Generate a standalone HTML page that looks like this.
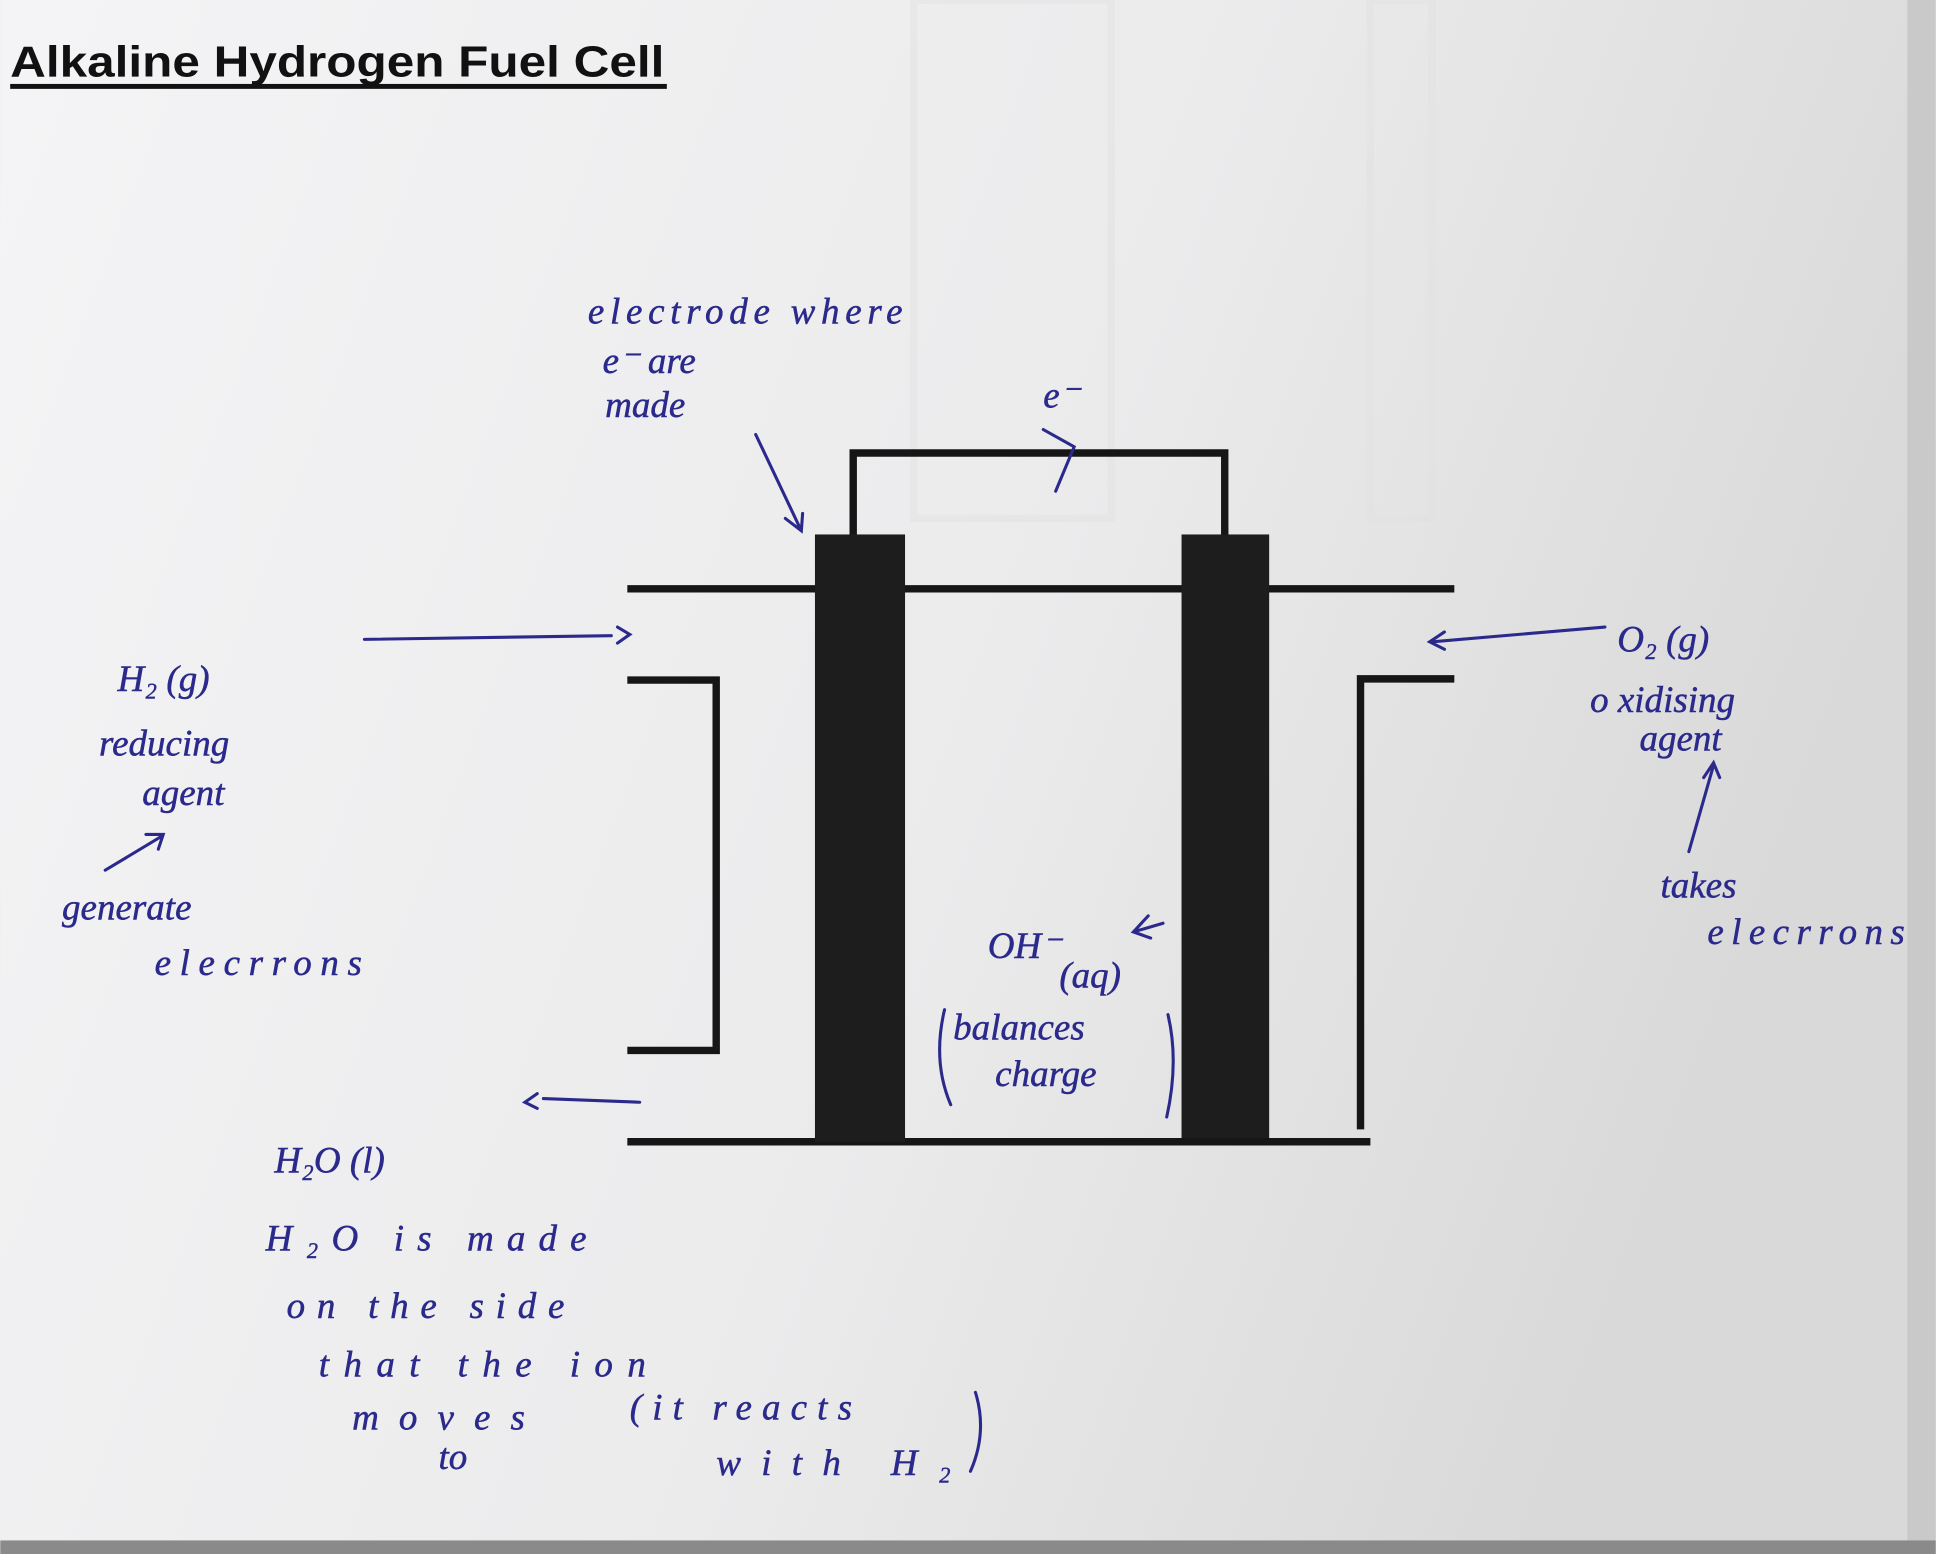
<!DOCTYPE html>
<html><head><meta charset="utf-8"><style>
html,body{margin:0;padding:0;width:1936px;height:1554px;overflow:hidden;background:#eeeef0}
svg{display:block}
.h{font-family:"Liberation Serif",serif;font-style:italic;fill:#2b2a8c;font-size:30px}
</style></head><body>
<svg width="1936" height="1554" viewBox="0 0 1568 1259" xmlns="http://www.w3.org/2000/svg">
<defs>
<linearGradient id="bg" x1="0" y1="0" x2="1" y2="0.3">
<stop offset="0" stop-color="#f4f4f6"/><stop offset="0.6" stop-color="#ebebec"/><stop offset="1" stop-color="#d9d9d9"/>
</linearGradient>
</defs>
<rect width="1568" height="1259" fill="url(#bg)"/>
<rect x="1545" y="0" width="23" height="1259" fill="#c9c9c9"/>
<rect x="0" y="1248" width="1568" height="11" fill="#8a8a8a"/>
<g fill="none" stroke="#e2e2e2" stroke-width="6" opacity="0.5">
<rect x="740" y="0" width="160" height="420"/><rect x="1110" y="0" width="50" height="420"/>
</g>
<text x="8" y="62" font-family="Liberation Sans,sans-serif" font-weight="bold" font-size="35" fill="#111" textLength="530" lengthAdjust="spacingAndGlyphs">Alkaline Hydrogen Fuel Cell</text>
<rect x="8" y="68" width="532" height="4" fill="#111"/>
<g stroke="#161616" stroke-width="6" fill="none">
<path d="M508 477H1178"/>
<path d="M691 433V367H992V433"/>
<path d="M508 551H580V851H508"/>
<path d="M508 925H1110"/>
<path d="M1178 550H1102V915"/>
</g>
<rect x="660" y="433" width="73" height="492" fill="#1d1d1d"/>
<rect x="957" y="433" width="71" height="489" fill="#1d1d1d"/>
<g stroke="#2b2a8c" stroke-width="2.5" fill="none" stroke-linecap="round">
<path d="M295 518L495 515M500 508L510 514L500 521"/>
<path d="M612 352Q630 390 648 428M636 420L649 430L650 416"/>
<path d="M845 348L870 362L855 398"/>
<path d="M1300 508L1160 520M1170 512L1158 520L1170 526"/>
<path d="M1368 690L1388 620M1380 630L1388 618L1393 630"/>
<path d="M85 705L130 678M118 676L132 676L128 688"/>
<path d="M918 755L942 748M930 742L918 755L932 760"/>
<path d="M440 890L518 893M435 886L425 893L435 898"/>
<path d="M765 818Q755 860 770 895M946 822Q955 860 945 905"/>
<path d="M790 1128Q800 1160 786 1192"/>
</g>
<g style="stroke:#2b2a8c;stroke-width:0.4">
<text class="h" x="476" y="262" font-size="28" textLength="255">electrode where</text>
<text class="h" x="488" y="302" font-size="28">e⁻  are</text>
<text class="h" x="490" y="338" font-size="28">made</text>
<text class="h" x="845" y="330" font-size="32">e⁻</text>
<text class="h" x="95" y="560" font-size="32">H₂ (g)</text>
<text class="h" x="80" y="612" font-size="30">reducing</text>
<text class="h" x="115" y="652" font-size="30">agent</text>
<text class="h" x="50" y="745" font-size="30">generate</text>
<text class="h" x="125" y="790" font-size="30" textLength="168">elecrrons</text>
<text class="h" x="1310" y="528" font-size="32">O₂ (g)</text>
<text class="h" x="1288" y="577" font-size="28">o xidising</text>
<text class="h" x="1328" y="608" font-size="28">agent</text>
<text class="h" x="1345" y="727" font-size="28">takes</text>
<text class="h" x="1383" y="765" font-size="28" textLength="160">elecrrons</text>
<text class="h" x="800" y="776" font-size="30">OH⁻</text>
<text class="h" x="858" y="800" font-size="18">(aq)</text>
<text class="h" x="772" y="842" font-size="28">balances</text>
<text class="h" x="806" y="880" font-size="28">charge</text>
<text class="h" x="222" y="950" font-size="30">H₂O (l)</text>
<text class="h" x="215" y="1013" font-size="30" textLength="260">H₂O  is  made</text>
<text class="h" x="232" y="1068" font-size="30" textLength="225">on  the  side</text>
<text class="h" x="258" y="1115" font-size="30" textLength="265">that  the  ion</text>
<text class="h" x="285" y="1158" font-size="30" textLength="140">moves</text>
<text class="h" x="355" y="1190" font-size="28">to</text>
<text class="h" x="510" y="1150" font-size="28" textLength="180">(it reacts</text>
<text class="h" x="580" y="1195" font-size="28" textLength="190">with H₂</text>
</g>
</svg>
</body></html>
